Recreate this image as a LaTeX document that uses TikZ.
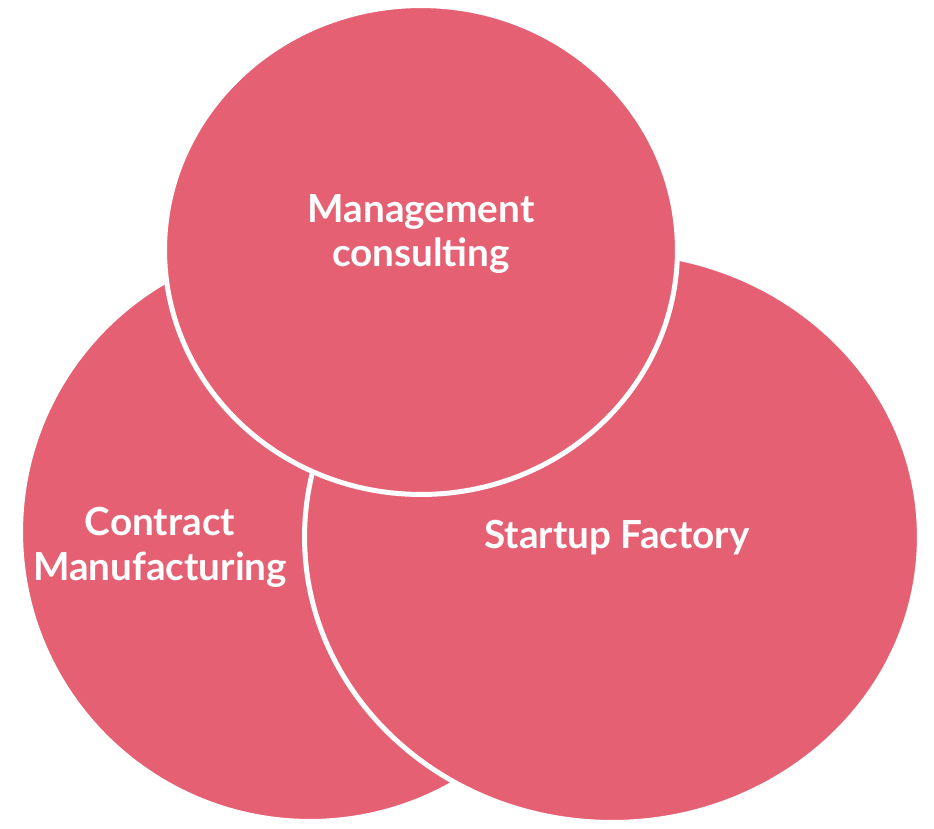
\documentclass[tikz,border=0pt]{standalone}
\usepackage{fontspec}
\setmainfont{Lato}
\usepackage{tikz}
\usetikzlibrary{shapes,positioning,shadows}
\usepackage{xcolor}
\definecolor{vnpink}{RGB}{229,96,115}
\tikzstyle{venn} = [ellipse, draw=white, line width=0.1cm, fill=vnpink, inner sep=0pt,
  drop shadow={shadow xshift=0.4pt, shadow yshift=-1.2pt, opacity=0.18}]
\tikzstyle{vlabel} = [text=white, font=\bfseries\fontsize{22}{25.6}\selectfont, align=center]

\begin{document}
\begin{tikzpicture}[x=0.02cm, y=-0.02cm]
\useasboundingbox (0,0) rectangle (934,829);

% Contract Manufacturing - back circle
\node[venn, minimum width=11.58cm, minimum height=11.58cm] (cm) at (310,532) {};
\node[vlabel] (cmtext) at (160,547) {Contract\\Manufacturing};

% Startup Factory - right ellipse
\node[venn, minimum width=12.30cm, minimum height=11.42cm] (sf) at (612,537) {};
\node[vlabel] (sftext) at (617,538) {Startup Factory};

% Management consulting - top circle
\node[venn, minimum width=10.26cm, minimum height=9.78cm] (mc) at (421,250) {};
\node[vlabel] (mctext) at (421,234) {Management\\consulting};
\end{tikzpicture}
\end{document}
